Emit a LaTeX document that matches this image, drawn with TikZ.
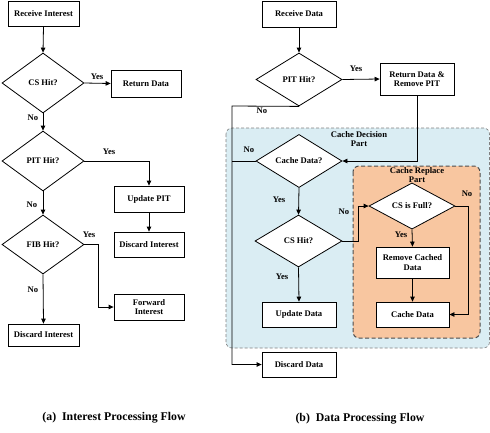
\documentclass[tikz,border=0pt]{standalone}
\usepackage{fontspec}
\setmainfont{Liberation Serif}
\usetikzlibrary{shapes.geometric,arrows.meta,calc}
\definecolor{regblue}{HTML}{DAEDF3}
\definecolor{regorange}{HTML}{F8C6A0}
\begin{document}
\begin{tikzpicture}[x=1pt,y=-1pt,
  every node/.style={font=\fontsize{8.6}{9.4}\selectfont\bfseries},
  box/.style={draw,fill=white,rectangle,line width=0.8pt,inner sep=1pt,align=center},
  dia/.style={draw,fill=white,diamond,line width=0.8pt,inner sep=0pt,align=center},
  conn/.style={line width=0.8pt,-{Triangle[length=5pt,width=4.5pt]}},
  plain/.style={line width=0.8pt},
  lab/.style={inner sep=0pt},
  captext/.style={font=\fontsize{11.8}{13}\selectfont\bfseries}]
\useasboundingbox (0,0) rectangle (490,432);

% regions
\draw[fill=regblue,draw=gray,dash pattern=on 3pt off 2pt,line width=0.6pt,rounded corners=6pt]
  (226,128) rectangle (489.5,348);
\node[lab,align=center] (cdlab) at (359,139) {Cache Decision\\Part};
\draw[fill=regorange,draw=black!70,dash pattern=on 4pt off 2.5pt,line width=1pt,rounded corners=6pt]
  (353,166) rectangle (480,338);
\node[lab,align=center] (crlab) at (417,175) {Cache Replace\\Part};

% left flow
\node[box,minimum width=71pt,minimum height=25pt] (ri) at (43.5,13.5) {Receive Interest};
\node[dia,minimum width=82pt,minimum height=60pt] (cs) at (43,83) {CS Hit?};
\node[box,minimum width=70pt,minimum height=27pt] (rd) at (146,83.5) {Return Data};
\node[dia,minimum width=82pt,minimum height=60pt] (pit) at (43,161) {PIT Hit?};
\node[box,minimum width=70pt,minimum height=26pt] (up) at (149,199) {Update PIT};
\node[box,minimum width=70pt,minimum height=25pt] (di1) at (149,244.5) {Discard Interest};
\node[dia,minimum width=82pt,minimum height=59pt] (fib) at (43,244.5) {FIB Hit?};
\node[box,minimum width=70pt,minimum height=26pt] (fi) at (149,307) {Forward\\Interest};
\node[box,minimum width=71pt,minimum height=22pt] (di2) at (43.5,335) {Discard Interest};
\coordinate (fibj) at (98,244.5);

\draw[conn] (ri.south) -- (cs.north);
\draw[conn] (cs.east) -- (rd.west);
\draw[conn] (cs.south) -- (pit.north);
\draw[conn] (pit.east) -| (up.north);
\draw[conn] (up.south) -- (di1.north);
\draw[conn] (pit.south) -- (fib.north);
\draw[conn] (fib.east) -- (fibj) |- (fi.west);
\draw[conn] (fib.south) -- (di2.north);

\node[lab] (l1) at (97,77) {Yes};
\node[lab] (l2) at (33,118) {No};
\node[lab] (l3) at (109,152) {Yes};
\node[lab] (l4) at (32,205) {No};
\node[lab] (l5) at (89,235) {Yes};
\node[lab] (l6) at (33,290) {No};

% right flow
\node[box,minimum width=74pt,minimum height=26pt] (rdata) at (299,14) {Receive Data};
\node[dia,minimum width=86pt,minimum height=53pt] (pit2) at (299,79.5) {PIT Hit?};
\node[box,minimum width=74pt,minimum height=32pt] (ret) at (417,79) {Return Data \&\\Remove PIT};
\node[dia,minimum width=86pt,minimum height=46pt] (cdata) at (299,161) {Cache Data?};
\node[dia,minimum width=87pt,minimum height=52pt] (cshit) at (298.5,241) {CS Hit?};
\node[box,minimum width=74pt,minimum height=25pt] (udata) at (299,314.5) {Update Data};
\node[dia,minimum width=86pt,minimum height=46pt] (full) at (412,206) {CS is Full?};
\node[box,minimum width=73pt,minimum height=31pt] (rcd) at (412.5,262.5) {Remove Cached\\Data};
\node[box,minimum width=73pt,minimum height=25pt] (cdata2) at (412.5,314.5) {Cache Data};
\node[box,minimum width=74pt,minimum height=25pt] (ddata) at (299,364.5) {Discard Data};

\coordinate (lc) at (232,106);
\coordinate (jog) at (358,241);
\coordinate (rj) at (468,206);

\draw[conn] (rdata.south) -- (pit2.north);
\draw[conn] (pit2.east) -- (ret.west);
\draw[conn] (ret.south) |- (cdata.east);
\draw[conn] (pit2.south) -- (lc) |- (ddata.west);
\draw[plain] (cdata.west) -- (cdata.west -| lc);
\draw[conn] (cdata.south) -- (cshit.north);
\draw[conn] (cshit.south) -- (udata.north);
\draw[conn] (cshit.east) -- (jog) |- (full.west);
\draw[conn] (full.east) -- (rj) |- (cdata2.east);
\draw[conn] (full.south) -- (rcd.north);
\draw[conn] (rcd.south) -- (cdata2.north);

\node[lab] (r1) at (356,69) {Yes};
\node[lab] (r2) at (262,111) {No};
\node[lab] (r3) at (249,150) {No};
\node[lab] (r4) at (279,200) {Yes};
\node[lab] (r5) at (282,277) {Yes};
\node[lab] (r6) at (344,212) {No};
\node[lab] (r7) at (467,194) {No};
\node[lab] (r8) at (401,235) {Yes};

% captions
\node[captext] (capa) at (114,418) {(a)\ \ Interest Processing Flow};
\node[captext] (capb) at (360,419) {(b)\ \ Data Processing Flow};
\end{tikzpicture}
\end{document}
